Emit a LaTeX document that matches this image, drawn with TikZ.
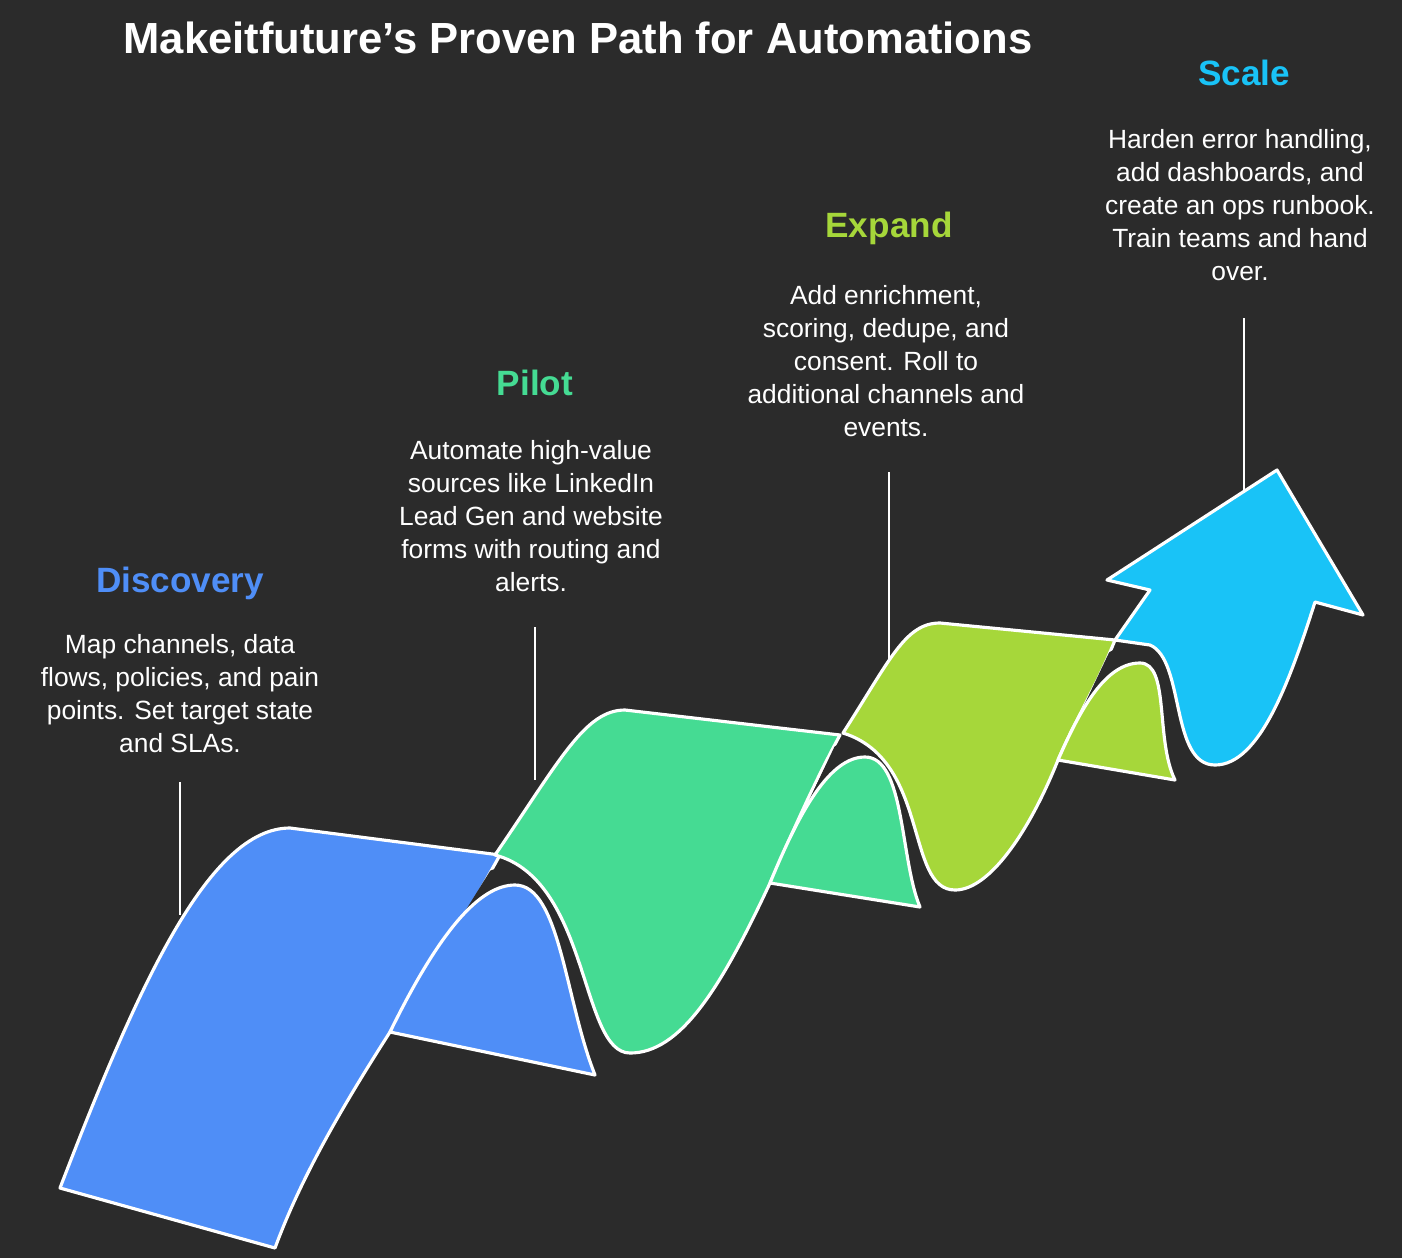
\documentclass[tikz,border=0pt]{standalone}
\usepackage{fontspec}
\setmainfont{Liberation Sans}
\definecolor{bg}{HTML}{2B2B2B}
\definecolor{cblue}{HTML}{4F8EF7}
\definecolor{cgreen}{HTML}{45DB93}
\definecolor{clime}{HTML}{A6D73A}
\definecolor{ccyan}{HTML}{19C3F7}
\begin{document}
\begin{tikzpicture}[x=0.02cm,y=-0.02cm,
  seg/.style={draw=white,line width=1.8pt,line join=round},
  halo/.style={draw=bg,line width=22pt},
  lead/.style={draw=white,line width=1.2pt},
  head/.style={font=\fontsize{20}{24}\selectfont\bfseries},
  body/.style={text=white,align=center,font=\fontsize{15}{18.8}\selectfont}]
\fill[bg] (0,0) rectangle (1402,1258);
\useasboundingbox (0,0) rectangle (1402,1258);
\node[text=white,font=\fontsize{24.8}{28}\selectfont\bfseries] (title) at (578,38) {Makeitfuture’s Proven Path for Automations};
% Discovery
\fill[cblue,seg] (60,1188) .. controls (140,980) and (210,828) .. (290,828) -- (500,855) -- (430,980) -- (390,1032) .. controls (340,1110) and (300,1180) .. (275,1248) -- cycle;
\begin{scope}
\clip (390,1032) -- (500,855) -- (700,700) -- (700,1100) -- cycle;
\draw[halo] (390,1032) .. controls (440,930) and (480,885) .. (515,885) .. controls (560,885) and (565,1000) .. (595,1075);
\end{scope}
\fill[cblue,seg] (390,1032) .. controls (440,930) and (480,885) .. (515,885) .. controls (560,885) and (565,1000) .. (595,1075) -- cycle;
% Pilot
\fill[cgreen,seg] (495,855) .. controls (560,760) and (585,710) .. (625,710) -- (840,735) .. controls (810,790) and (785,850) .. (770,883) .. controls (720,990) and (680,1053) .. (630,1053) .. controls (580,1053) and (590,880) .. cycle;
\begin{scope}
\clip (770,883) -- (840,735) -- (1000,600) -- (1000,950) -- cycle;
\draw[halo] (770,883) .. controls (800,810) and (830,757) .. (865,757) .. controls (905,757) and (900,860) .. (920,907);
\end{scope}
\fill[cgreen,seg] (770,883) .. controls (800,810) and (830,757) .. (865,757) .. controls (905,757) and (900,860) .. (920,907) -- cycle;
% Expand
\fill[clime,seg] (843,733) .. controls (890,660) and (905,623) .. (940,623) -- (1115,640) .. controls (1095,690) and (1075,720) .. (1058,760) .. controls (1030,830) and (990,890) .. (955,890) .. controls (905,890) and (930,760) .. cycle;
\begin{scope}
\clip (1058,760) -- (1115,640) -- (1300,500) -- (1300,850) -- cycle;
\draw[halo] (1058,760) .. controls (1080,710) and (1105,663) .. (1140,663) .. controls (1170,663) and (1155,740) .. (1175,780);
\end{scope}
\fill[clime,seg] (1058,760) .. controls (1080,710) and (1105,663) .. (1140,663) .. controls (1170,663) and (1155,740) .. (1175,780) -- cycle;
% Scale
\fill[ccyan,seg] (1115,640) -- (1150,590) -- (1107,580) -- (1277,470) -- (1363,615) -- (1315,602) .. controls (1290,680) and (1260,765) .. (1215,765) .. controls (1170,765) and (1185,660) .. (1150,645) -- cycle;
% leaders
\coordinate (d1) at (180,782); \coordinate (d2) at (180,915);
\coordinate (p1) at (535,627); \coordinate (p2) at (535,780);
\coordinate (e1) at (889,472); \coordinate (e2) at (889,660);
\coordinate (s1) at (1244,318); \coordinate (s2) at (1244,490);
\draw[lead] (d1)--(d2); \draw[lead] (p1)--(p2); \draw[lead] (e1)--(e2); \draw[lead] (s1)--(s2);
% texts
\node[head,text=cblue] (hd) at (180,583) {Discovery};
\node[body,anchor=north] (td) at (180,628) {Map channels, data\\flows, policies, and pain\\points. Set target state\\and SLAs.};
\node[head,text=cgreen] (hp) at (535,383) {Pilot};
\node[body,anchor=north] (tp) at (531,434) {Automate high-value\\sources like LinkedIn\\Lead Gen and website\\forms with routing and\\alerts.};
\node[head,text=clime] (he) at (889,228) {Expand};
\node[body,anchor=north] (te) at (886,279) {Add enrichment,\\scoring, dedupe, and\\consent. Roll to\\additional channels and\\events.};
\node[head,text=ccyan] (hs) at (1244,73) {Scale};
\node[body,anchor=north] (ts) at (1240,123) {Harden error handling,\\add dashboards, and\\create an ops runbook.\\Train teams and hand\\over.};
\end{tikzpicture}
\end{document}
